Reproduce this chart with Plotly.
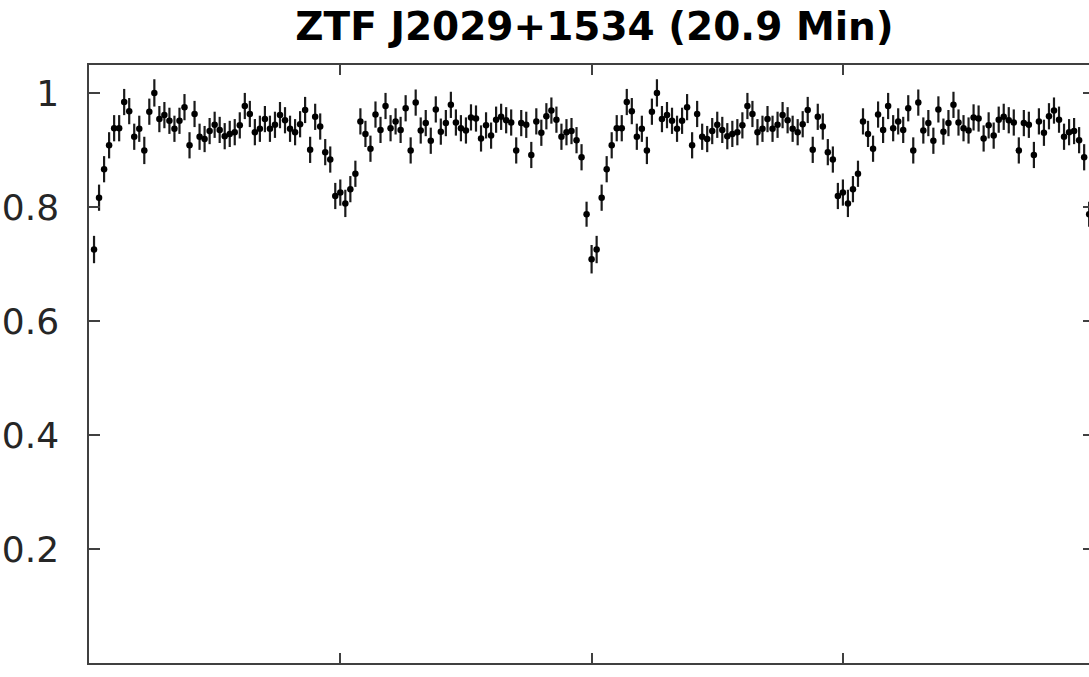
import plotly.graph_objects as go

# Phase bins (one cycle) and normalized flux
phase = [round(0.01 * k, 2) for k in range(1, 101)]
flux = [
    0.726, 0.817, 0.867, 0.909, 0.939, 0.939, 0.985, 0.969, 0.924, 0.938,
    0.900, 0.968, 1.001, 0.955, 0.962, 0.952, 0.938, 0.952, 0.976, 0.909,
    0.964, 0.924, 0.920, 0.934, 0.945, 0.936, 0.925, 0.929, 0.932, 0.944,
    0.978, 0.964, 0.932, 0.938, 0.955, 0.938, 0.945, 0.962, 0.953, 0.938,
    0.932, 0.946, 0.971, 0.901, 0.959, 0.942, 0.897, 0.884, 0.820, 0.826,
    0.807, 0.832, 0.859, 0.951, 0.929, 0.903, 0.963, 0.936, 0.978, 0.939,
    0.951, 0.936, 0.974, 0.900, 0.984, 0.935, 0.948, 0.917, 0.972, 0.933,
    0.948, 0.980, 0.949, 0.939, 0.935, 0.958, 0.956, 0.921, 0.944, 0.926,
    0.954, 0.959, 0.953, 0.949, 0.900, 0.948, 0.945, 0.892, 0.951, 0.931,
    0.960, 0.970, 0.954, 0.924, 0.932, 0.934, 0.918, 0.888, 0.788, 0.709,
]
flux_err = [
    0.024, 0.023, 0.023, 0.023, 0.023, 0.023, 0.023, 0.023, 0.023, 0.023,
    0.024, 0.023, 0.024, 0.023, 0.023, 0.023, 0.023, 0.023, 0.023, 0.023,
    0.023, 0.023, 0.023, 0.023, 0.023, 0.023, 0.023, 0.023, 0.023, 0.023,
    0.023, 0.023, 0.023, 0.023, 0.023, 0.023, 0.023, 0.023, 0.023, 0.023,
    0.023, 0.023, 0.023, 0.023, 0.023, 0.023, 0.023, 0.023, 0.023, 0.023,
    0.024, 0.023, 0.023, 0.023, 0.023, 0.023, 0.023, 0.023, 0.023, 0.023,
    0.023, 0.023, 0.023, 0.023, 0.023, 0.023, 0.023, 0.023, 0.023, 0.023,
    0.023, 0.023, 0.023, 0.023, 0.023, 0.023, 0.023, 0.023, 0.023, 0.023,
    0.023, 0.023, 0.023, 0.023, 0.023, 0.023, 0.023, 0.023, 0.023, 0.023,
    0.023, 0.023, 0.023, 0.023, 0.023, 0.023, 0.023, 0.023, 0.022, 0.025,
]

# Two cycles shown
x_all = phase + [p + 1 for p in phase]
y_all = flux + flux
e_all = flux_err + flux_err

ytick_vals = [0, 0.2, 0.4, 0.6, 0.8, 1.0]
ytick_text = ["0", "0.2", "0.4", "0.6", "0.8", "1"]
xtick_vals = [0.5, 1.0, 1.5]

title_text = "ZTF J2029+1534 (20.9 Min)"

fig = go.Figure()
fig.add_trace(go.Scatter(
    x=x_all, y=y_all, mode="markers",
    marker=dict(color="black", size=6.5),
    error_y=dict(type="data", array=e_all, visible=True,
                 color="#1a1a1a", thickness=2.2, width=0),
    showlegend=False,
))
# empty helper trace so the right-hand (mirror tick) axis is drawn
fig.add_trace(go.Scatter(x=[], y=[], yaxis="y2", showlegend=False,
                         hoverinfo="skip"))

axis_color = "#404040"
fig.update_layout(
    width=1089, height=677,
    margin=dict(l=89, r=0, t=65, b=14),
    paper_bgcolor="white", plot_bgcolor="white",
    title=dict(
        text=title_text, x=594.5 / 1089, xref="container", xanchor="center",
        y=1 - 26 / 677, yref="container", yanchor="middle",
        font=dict(family="DejaVu Sans", size=39, color="black", weight="bold"),
    ),
    xaxis=dict(
        range=[0, 1000 / 502.6], tickvals=xtick_vals, showticklabels=False,
        ticks="inside", ticklen=10, tickwidth=1.5, tickcolor=axis_color,
        showline=True, linecolor=axis_color, linewidth=1.5, mirror="ticks",
        showgrid=False, zeroline=False,
    ),
    yaxis=dict(
        range=[0, 1.05], tickvals=ytick_vals, ticktext=ytick_text,
        ticks="inside", ticklen=11, tickwidth=1.5, tickcolor=axis_color,
        showline=True, linecolor=axis_color, linewidth=1.5, mirror=False,
        showgrid=False, zeroline=False, ticklabelstandoff=21,
        tickfont=dict(family="DejaVu Sans", size=36, color="#262626"),
    ),
    yaxis2=dict(
        range=[0, 1.05], overlaying="y", side="right", anchor="x",
        tickvals=ytick_vals, showticklabels=False,
        ticks="inside", ticklen=6, tickwidth=1.5, tickcolor=axis_color,
        showline=False, showgrid=False, zeroline=False,
    ),
)

fig.write_html("out.html")
